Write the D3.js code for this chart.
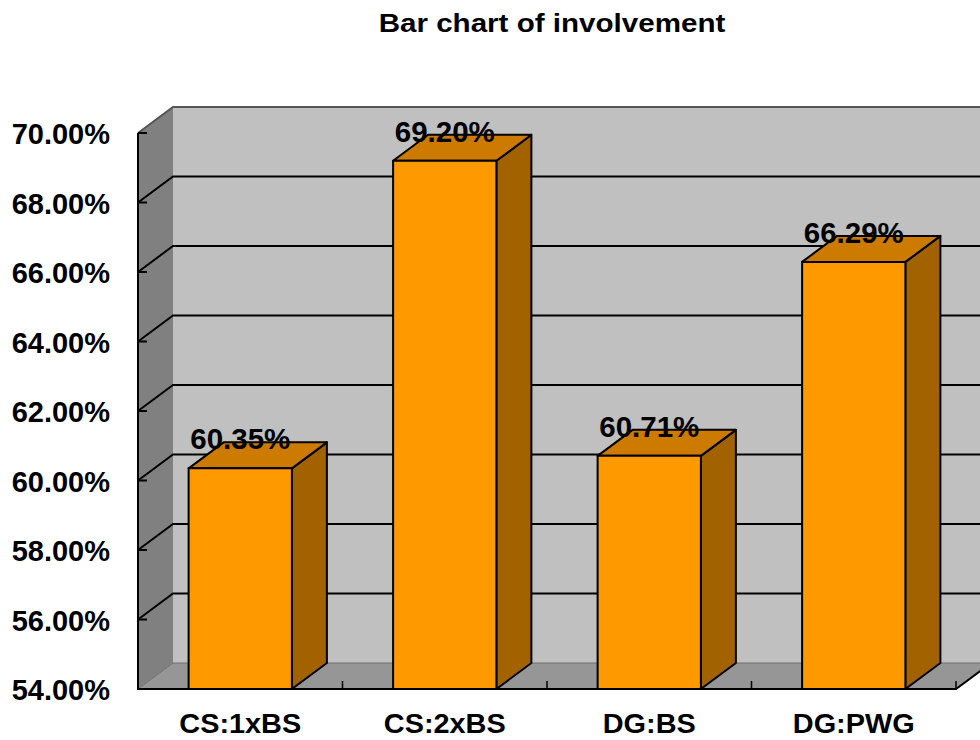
<!DOCTYPE html>
<html>
<head>
<meta charset="utf-8">
<script src="https://cdn.jsdelivr.net/npm/d3@7"></script>
<style>
  html, body { margin: 0; padding: 0; background: #fff; }
  svg { display: block; }
  text { font-family: "Liberation Sans", Arial, sans-serif; font-weight: bold; fill: #000; }
</style>
</head>
<body>
<svg id="chart" width="980" height="740"></svg>
<script>
// Chart content
const title = "Bar chart of involvement";
const categories = ["CS:1xBS", "CS:2xBS", "DG:BS", "DG:PWG"];
const involvement = [60.35, 69.20, 60.71, 66.29];
const valueLabels = ["60.35%", "69.20%", "60.71%", "66.29%"];
const yTicks = [54, 56, 58, 60, 62, 64, 66, 68, 70];
const yTickLabels = ["54.00%", "56.00%", "58.00%", "60.00%", "62.00%", "64.00%", "66.00%", "68.00%", "70.00%"];

const svg = d3.select("#chart");

// Front plane of the 3-D plot box and the depth offset to its back wall
const front = { left: 138, right: 956, top: 133, bottom: 689 };
const depth = { dx: 35, dy: -26 };

const y = d3.scaleLinear().domain([54, 70]).range([front.bottom, front.top]);
const x = d3.scaleBand().domain(categories).range([front.left, front.right]).paddingInner(0).paddingOuter(0);
const barW = x.bandwidth() * 0.505;

const line = d3.line();
const poly = pts => line(pts) + "Z";

const L = front.left, R = front.right;
const yTop = y(70), yBot = y(54);
const bx = L + depth.dx, bxR = R + depth.dx;

// Back wall
svg.append("path")
  .attr("d", poly([[bx, yTop + depth.dy], [bxR, yTop + depth.dy], [bxR, yBot + depth.dy], [bx, yBot + depth.dy]]))
  .attr("fill", "#c0c0c0");

// Left side wall
svg.append("path")
  .attr("d", poly([[L, yTop], [bx, yTop + depth.dy], [bx, yBot + depth.dy], [L, yBot]]))
  .attr("fill", "#808080");

// Floor
svg.append("path")
  .attr("d", poly([[L, yBot], [bx, yBot + depth.dy], [bxR, yBot + depth.dy], [R, yBot]]))
  .attr("fill", "#969696");

// Gridlines across the side wall and back wall
const inner = yTicks.filter(v => v > 54 && v < 70);
const grid = svg.append("g").attr("fill", "none");
inner.forEach(v => {
  grid.append("path")
    .attr("d", line([[L, y(v)], [bx, y(v) + depth.dy], [bxR, y(v) + depth.dy]]))
    .attr("stroke", "#000").attr("stroke-width", 2);
});
// Top edge of the walls
grid.append("path")
  .attr("d", line([[L, yTop], [bx, yTop + depth.dy], [bxR, yTop + depth.dy]]))
  .attr("stroke", "#555").attr("stroke-width", 2);
// Back edge of the floor
grid.append("path")
  .attr("d", line([[L, yBot], [bx, yBot + depth.dy], [bxR, yBot + depth.dy]]))
  .attr("stroke", "#6e6e6e").attr("stroke-width", 1);

// Front floor edge, right floor edge and value axis
grid.append("path")
  .attr("d", line([[L, yTop], [L, yBot], [R, yBot], [R + depth.dx, yBot + depth.dy]]))
  .attr("stroke", "#000").attr("stroke-width", 2);

// Value-axis tick marks
yTicks.forEach(v => {
  grid.append("line")
    .attr("x1", L).attr("x2", L + 9).attr("y1", y(v)).attr("y2", y(v))
    .attr("stroke", "#000").attr("stroke-width", 2);
});
// Category boundary tick marks on the floor
categories.forEach((c, i) => {
  const xb = x(c) + x.bandwidth();
  grid.append("line")
    .attr("x1", xb).attr("x2", xb).attr("y1", yBot - 8).attr("y2", yBot)
    .attr("stroke", "#000").attr("stroke-width", 1.5);
});

// 3-D bars
const bars = svg.append("g").attr("stroke", "#000").attr("stroke-width", 2).attr("stroke-linejoin", "round");
categories.forEach((c, i) => {
  const cx = x(c) + x.bandwidth() / 2;
  const x0 = cx - barW / 2, x1 = cx + barW / 2;
  const yt = y(involvement[i]);
  const g = bars.append("g");
  // right side
  g.append("path")
    .attr("d", poly([[x1, yt], [x1 + depth.dx, yt + depth.dy], [x1 + depth.dx, yBot + depth.dy], [x1, yBot]]))
    .attr("fill", "#a36200");
  // top
  g.append("path")
    .attr("d", poly([[x0, yt], [x0 + depth.dx, yt + depth.dy], [x1 + depth.dx, yt + depth.dy], [x1, yt]]))
    .attr("fill", "#cc7a00");
  // front
  g.append("path")
    .attr("d", poly([[x0, yt], [x1, yt], [x1, yBot], [x0, yBot]]))
    .attr("fill", "#ff9900");
});

// Value labels above the bars
categories.forEach((c, i) => {
  svg.append("text")
    .attr("x", x(c) + x.bandwidth() / 2)
    .attr("y", y(involvement[i]) - 19)
    .attr("text-anchor", "middle")
    .attr("font-size", 29.5)
    .text(valueLabels[i]);
});

// Value-axis labels
yTicks.forEach((v, i) => {
  svg.append("text")
    .attr("x", 110)
    .attr("y", y(v) + 11)
    .attr("text-anchor", "end")
    .attr("font-size", 29)
    .text(yTickLabels[i]);
});

// Category labels
categories.forEach(c => {
  svg.append("text")
    .attr("transform", `translate(${x(c) + x.bandwidth() / 2},733) scale(1.05,1)`)
    .attr("text-anchor", "middle")
    .attr("font-size", 27.5)
    .text(c);
});

// Title
svg.append("text")
  .attr("transform", "translate(552,32) scale(1.16,1)")
  .attr("text-anchor", "middle")
  .attr("font-size", 25.5)
  .text(title);
</script>
</body>
</html>
